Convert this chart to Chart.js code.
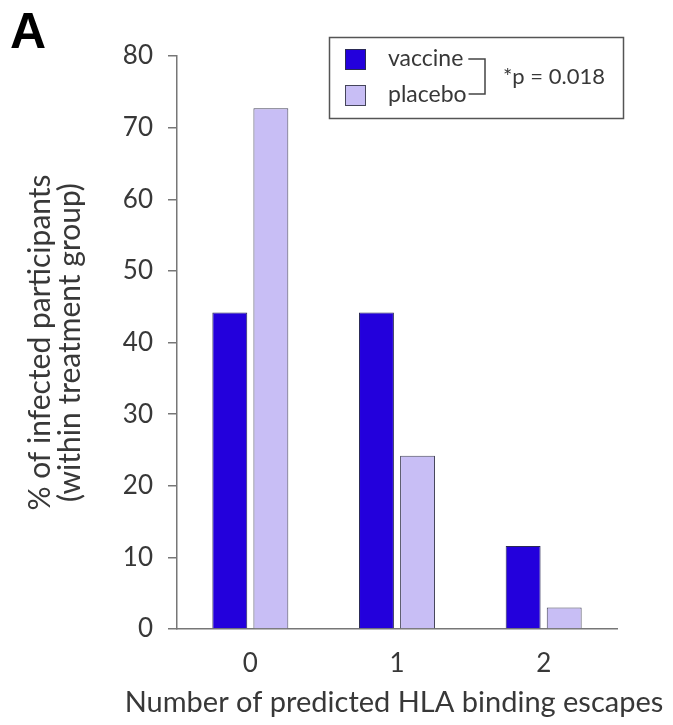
<!DOCTYPE html>
<html>
<head>
<meta charset="utf-8">
<script src="https://cdn.jsdelivr.net/npm/chart.js@4.4.1/dist/chart.umd.min.js"></script>
<style>
	html, body { margin: 0; padding: 0; background: #ffffff; }
	#wrap { width: 673px; height: 725px; }
</style>
</head>
<body>
<div id="wrap"><canvas id="Escapes_Plot" width="673" height="725"></canvas></div>
<script>

// Data
const categories = ["0", "1", "2"];
const vaccine_pct = [44.2, 44.2, 11.6];
const placebo_pct = [72.7, 24.2, 3.0];
const y_min = 0;
const y_max = 80;
const y_step = 10;
const x_title = "Number of predicted HLA binding escapes";
const p_label = "*p = 0.018";
const panel_letter = "A";

const text_color = "#383838";
const axis_color = "#777777";

Chart.defaults.font.family = "Lato";
Chart.defaults.color = text_color;

const escapes_plot = document.getElementById("Escapes_Plot").getContext("2d");

// Legend box with bracket + p value, x title and panel letter, drawn by hand
const bracket_legend = {
	id: "bracket_legend",
	afterDraw(chart) {
		const ctx = chart.ctx;
		const ds = chart.data.datasets;
		const rows = [60, 96];
		const ends = [];
		ctx.save();
		ctx.strokeStyle = "#555555";
		ctx.lineWidth = 1.5;
		ctx.strokeRect(329.5, 37.5, 294, 81);
		ctx.font = "23px Lato";
		ctx.textBaseline = "middle";
		ds.forEach((d, i) => {
			ctx.fillStyle = d.backgroundColor;
			ctx.fillRect(345, rows[i] - 11, 21, 21);
			ctx.strokeStyle = d.borderColor;
			ctx.lineWidth = 1;
			ctx.strokeRect(345.5, rows[i] - 10.5, 20, 20);
			ctx.fillStyle = text_color;
			ctx.fillText(d.label, 388, rows[i] - 1);
			ends.push(388 + ctx.measureText(d.label).width);
		});
		ctx.strokeStyle = "#444444";
		ctx.lineWidth = 1.5;
		ctx.beginPath();
		ctx.moveTo(ends[0] + 5, 59);
		ctx.lineTo(485, 59);
		ctx.lineTo(485, 94);
		ctx.lineTo(ends[1] + 2, 94);
		ctx.stroke();
		ctx.fillStyle = text_color;
		ctx.font = "22px Lato";
		ctx.fillText(p_label, 503, 77);

		// x axis title, not squeezed to the plot width
		const area = chart.chartArea;
		ctx.font = "29px Lato";
		ctx.textAlign = "center";
		ctx.fillText(x_title, (area.left + area.right) / 2 - 3, 703);

		// panel letter
		ctx.fillStyle = "#000000";
		ctx.font = "bold 50px 'Liberation Sans'";
		ctx.textAlign = "left";
		ctx.textBaseline = "alphabetic";
		ctx.fillText(panel_letter, 10, 48);
		ctx.restore();
	}
};

var Escapes_Plot_Obj = new Chart(escapes_plot, {
	type: "bar",
	data: {
		labels: categories,
		datasets: [
			{
				label: "vaccine",
				data: vaccine_pct,
				backgroundColor: "#2300dc",
				borderColor: "#2a2a55",
				borderWidth: 1,
				barPercentage: 0.85,
				categoryPercentage: 0.56,
			},
			{
				label: "placebo",
				data: placebo_pct,
				backgroundColor: "#c8bef5",
				borderColor: "#45455a",
				borderWidth: 1,
				barPercentage: 0.85,
				categoryPercentage: 0.56,
			}
		]
	},
	options: {
		responsive: false,
		animation: false,
		events: [], // no hover
		layout: {
			padding: { top: 56, right: 56, left: 0, bottom: 0 }
		},
		plugins: {
			legend: { display: false },
			tooltip: { enabled: false },
		},
		scales: {
			x: {
				grid: { display: false },
				border: { display: true, color: axis_color, width: 1.5 },
				ticks: { font: { size: 26 }, padding: 11 },
				title: { display: false },
				afterFit(scale) { scale.height = 96; }
			},
			y: {
				min: y_min,
				max: y_max,
				ticks: { stepSize: y_step, font: { size: 26 }, padding: 15 },
				grid: { display: true, drawOnChartArea: false, drawTicks: true, tickLength: 9, color: axis_color, lineWidth: 1.5 },
				border: { display: true, color: axis_color, width: 1.5 },
				title: {
					display: true,
					text: ["% of infected participants", "(within treatment group)"],
					font: { size: 30, lineHeight: 1.0 },
					padding: { top: 25, bottom: 0 }
				},
				afterFit(scale) { scale.width = 177; }
			}
		}
	},
	plugins: [bracket_legend]
});

</script>
</body>
</html>
